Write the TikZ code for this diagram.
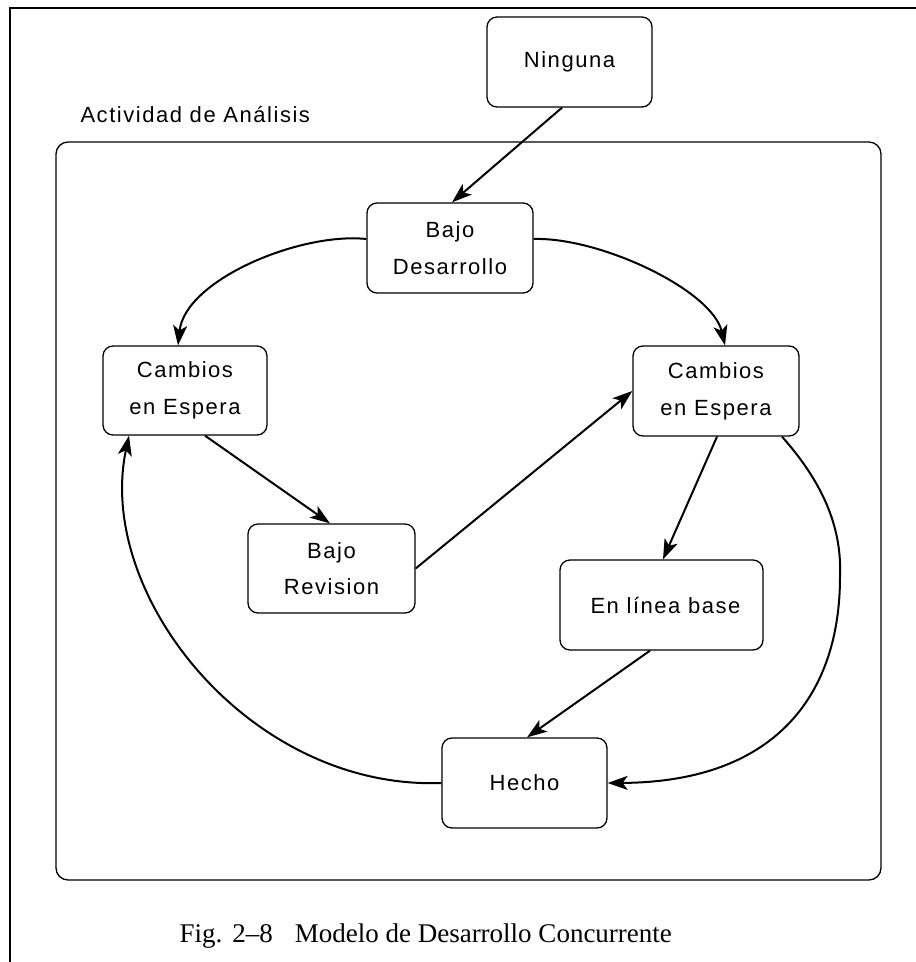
\documentclass[tikz,border=0pt]{standalone}
\usepackage{fontspec}
\setmainfont{Liberation Sans}
\newfontfamily\boxfont[LetterSpace=7]{Liberation Sans}
\newfontfamily\capfont[Ligatures=TeX]{Liberation Serif}
\usetikzlibrary{arrows.meta}

\tikzset{
  stbox/.style={draw, line width=1.3pt, rounded corners=10pt,
    minimum width=165pt, minimum height=90pt, inner sep=0pt,
    align=center, font=\boxfont\fontsize{22}{36.7}\selectfont},
  flow/.style={line width=2pt, -{Stealth[length=20pt,width=14pt,inset=5pt]}},
  frameline/.style={line width=1.5pt},
}

\begin{document}
\begin{tikzpicture}[x=1pt,y=-1pt]
  \useasboundingbox (0,0) rectangle (916,962);

  % page frame (top and left edges)
  \draw[frameline] (10,962) -- (10,8) -- (916,8);

  % activity container
  \draw[line width=1.3pt, rounded corners=12pt] (56,142) rectangle (881,880);
  \node[anchor=base west, font=\boxfont\fontsize{22}{25}\selectfont] (actlabel)
    at (77,122) {Actividad de Análisis};

  % states
  \node[stbox] (nin) at (569.5,62) {Ninguna};
  \node[stbox, minimum width=166pt] (bd) at (450,248) {Bajo\\Desarrollo};
  \node[stbox, minimum width=164pt, minimum height=89pt] (cl) at (185,390.5) {Cambios\\en Espera};
  \node[stbox, minimum width=166pt] (cr) at (716,391) {Cambios\\en Espera};
  \node[stbox, minimum width=167pt, minimum height=89pt] (br) at (331.5,568.5) {Bajo\\Revision};
  \node[stbox, minimum width=203pt] (elb) at (661.5,605) {\hspace*{8pt}En línea base};
  \node[stbox] (he) at (524.5,783) {Hecho};

  % transitions
  \draw[flow] ([xshift=-7.5pt]nin.south) -- ([xshift=2pt]bd.north);
  \draw[flow] ([yshift=9pt]bd.west) .. controls (300,232) and (185,280) .. ([xshift=-7pt]cl.north);
  \draw[flow] ([yshift=9pt]bd.east) .. controls (600,237) and (712,290) .. ([xshift=9pt]cr.north);
  \draw[flow] ([xshift=20pt]cl.south) -- ([xshift=-1.5pt]br.north);
  \draw[flow] (br.east) -- (cr.west);
  \draw[flow] ([xshift=1pt]cr.south) -- ([xshift=1.5pt]elb.north);
  \draw[flow] ([xshift=66pt]cr.south) .. controls (825,485) and (842,530) .. (840,577)
                                     .. controls (840,690) and (780,782) .. (he.east);
  \draw[flow] ([xshift=-11.5pt]elb.south) -- ([xshift=2.5pt]he.north);
  \draw[flow] (he.west) .. controls (250,790) and (95,595) .. ([xshift=-56pt]cl.south);

  % caption
  \node[anchor=base west, font=\capfont\fontsize{27}{30}\selectfont] (cap) at (176,942)
    {Fig.\hspace{10pt}2–8\hspace{22pt}Modelo de Desarrollo Concurrente};
\end{tikzpicture}
\end{document}
